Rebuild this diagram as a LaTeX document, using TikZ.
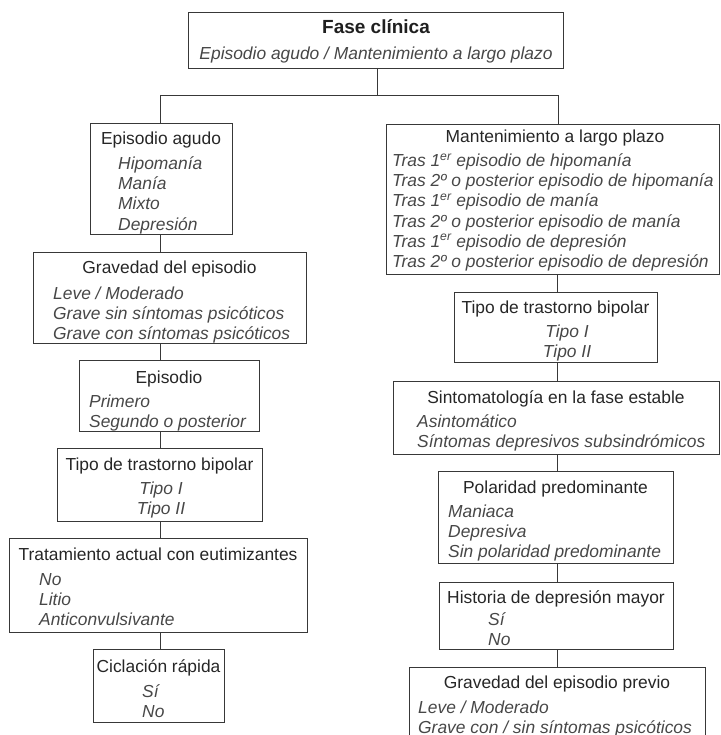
\documentclass[tikz,border=0pt]{standalone}
\usepackage{fontspec}
\setmainfont{Liberation Sans}
\begin{document}
\begin{tikzpicture}[x=1pt,y=1pt,
  boxst/.style={draw=black!78, line width=0.9pt, inner sep=0pt, outer sep=0pt, anchor=north west},
  hd/.style={inner sep=0pt, anchor=base, text=black!85, font=\fontsize{17.4}{20}\selectfont},
  hdb/.style={inner sep=0pt, anchor=base, text=black!88, font=\fontsize{19}{22}\selectfont\bfseries},
  it/.style={inner sep=0pt, anchor=base west, text=black!72, font=\fontsize{17.4}{20}\selectfont\itshape},
  itc/.style={inner sep=0pt, anchor=base, text=black!72, font=\fontsize{17.4}{20}\selectfont\itshape},
  conn/.style={draw=black!78, line width=0.9pt}]
\useasboundingbox (0,0) rectangle (720,-735);
\newcommand\mybox[5]{\node[boxst, minimum width={#4pt-#2pt}, minimum height={#5pt-#3pt}] (#1) at (#2,-#3) {};}
% ---- boxes
\mybox{top}{188}{12}{563}{68}
\mybox{ea}{90}{123}{232}{234}
\mybox{gr}{33}{252}{306}{343}
\mybox{ep}{79}{360}{259}{431}
\mybox{tl}{57}{448}{262}{521}
\mybox{tr}{9}{538}{307}{632}
\mybox{ci}{93}{649}{224}{722}
\mybox{mt}{386}{124}{719}{274}
\mybox{tb}{454}{292}{657}{362}
\mybox{si}{393}{381}{719}{454}
\mybox{po}{438}{471}{673}{563}
\mybox{hi}{439}{582}{673}{649}
\mybox{gp}{409}{667}{705}{745}
% ---- texts: top
\node[hdb] (top-t) at (376,-34) {Fase clínica};
\node[itc] (top-s) at (376,-60) {Episodio agudo / Mantenimiento a largo plazo};
% Episodio agudo
\node[hd] (ea-t) at (161,-145) {Episodio agudo};
\node[it] (ea-1) at (118,-170) {Hipomanía};
\node[it] (ea-2) at (118,-190) {Manía};
\node[it] (ea-3) at (118,-210) {Mixto};
\node[it] (ea-4) at (118,-230) {Depresión};
% Gravedad
\node[hd] (gr-t) at (169.5,-273) {Gravedad del episodio};
\node[it] (gr-1) at (53,-299) {Leve / Moderado};
\node[it] (gr-2) at (53,-319) {Grave sin síntomas psicóticos};
\node[it] (gr-3) at (53,-339) {Grave con síntomas psicóticos};
% Episodio
\node[hd] (ep-t) at (169,-383) {Episodio};
\node[it] (ep-1) at (89,-407) {Primero};
\node[it] (ep-2) at (89,-427) {Segundo o posterior};
% Tipo left
\node[hd] (tl-t) at (159.5,-470) {Tipo de trastorno bipolar};
\node[itc] (tl-1) at (161,-494) {Tipo I};
\node[itc] (tl-2) at (161,-514) {Tipo II};
% Tratamiento
\node[hd] (tr-t) at (158,-560) {Tratamiento actual con eutimizantes};
\node[it] (tr-1) at (39,-585) {No};
\node[it] (tr-2) at (39,-605) {Litio};
\node[it] (tr-3) at (39,-625) {Anticonvulsivante};
% Ciclacion
\node[hd] (ci-t) at (158.5,-672) {Ciclación rápida};
\node[it] (ci-1) at (142,-697) {Sí};
\node[it] (ci-2) at (142,-717) {No};
% Mantenimiento
\node[hd] (mt-t) at (555,-143) {Mantenimiento a largo plazo};
\node[it] (mt-1) at (392,-167) {Tras 1\textsuperscript{er} episodio de hipomanía};
\node[it] (mt-2) at (392,-187) {Tras 2º o posterior episodio de hipomanía};
\node[it] (mt-3) at (392,-207) {Tras 1\textsuperscript{er} episodio de manía};
\node[it] (mt-4) at (392,-227) {Tras 2º o posterior episodio de manía};
\node[it] (mt-5) at (392,-247) {Tras 1\textsuperscript{er} episodio de depresión};
\node[it] (mt-6) at (392,-267) {Tras 2º o posterior episodio de depresión};
% Tipo right
\node[hd] (tb-t) at (555.5,-313) {Tipo de trastorno bipolar};
\node[itc] (tb-1) at (567,-337) {Tipo I};
\node[itc] (tb-2) at (567,-357) {Tipo II};
% Sintomatologia
\node[hd] (si-t) at (556,-403) {Sintomatología en la fase estable};
\node[it] (si-1) at (417,-427) {Asintomático};
\node[it] (si-2) at (417,-447) {Síntomas depresivos subsindrómicos};
% Polaridad
\node[hd] (po-t) at (555.5,-493) {Polaridad predominante};
\node[it] (po-1) at (448,-517) {Maniaca};
\node[it] (po-2) at (448,-537) {Depresiva};
\node[it] (po-3) at (448,-557) {Sin polaridad predominante};
% Historia
\node[hd] (hi-t) at (556,-603) {Historia de depresión mayor};
\node[it] (hi-1) at (488,-625) {Sí};
\node[it] (hi-2) at (488,-645) {No};
% Gravedad previo
\node[hd] (gp-t) at (557,-688) {Gravedad del episodio previo};
\node[it] (gp-1) at (418,-713) {Leve / Moderado};
\node[it] (gp-2) at (418,-733) {Grave con / sin síntomas psicóticos};
% ---- connectors
\coordinate (jt) at (377,-95);
\coordinate (jl) at (160,-95);
\coordinate (jr) at (558,-95);
\coordinate (lx) at (160,0);
\coordinate (rx) at (557,0);
\draw[conn] (jt |- top.south) -- (jt);
\draw[conn] (jl) -- (jr);
\draw[conn] (jl) -- (jl |- ea.north);
\draw[conn] (jr) -- (jr |- mt.north);
\draw[conn] (lx |- ea.south) -- (lx |- gr.north);
\draw[conn] (lx |- gr.south) -- (lx |- ep.north);
\draw[conn] (lx |- ep.south) -- (lx |- tl.north);
\draw[conn] (lx |- tl.south) -- (lx |- tr.north);
\draw[conn] (lx |- tr.south) -- (lx |- ci.north);
\draw[conn] (rx |- mt.south) -- (rx |- tb.north);
\draw[conn] (rx |- tb.south) -- (rx |- si.north);
\draw[conn] (rx |- si.south) -- (rx |- po.north);
\draw[conn] (rx |- po.south) -- (rx |- hi.north);
\draw[conn] (rx |- hi.south) -- (rx |- gp.north);
\end{tikzpicture}
\end{document}
